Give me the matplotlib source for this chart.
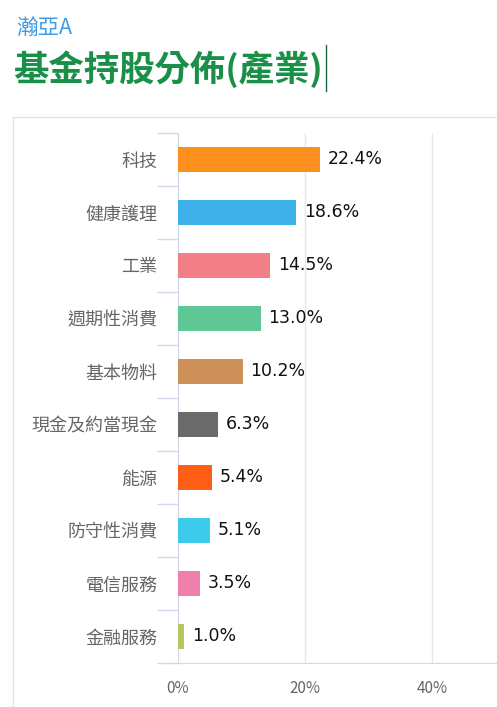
import matplotlib
matplotlib.use('Agg')
import matplotlib.pyplot as plt
from matplotlib.lines import Line2D

plt.rcParams['font.family'] = ['Noto Sans CJK TC', 'DejaVu Sans']

# data
categories = ['科技', '健康護理', '工業', '週期性消費', '基本物料',
              '現金及約當現金', '能源', '防守性消費', '電信服務', '金融服務']
values = [22.4, 18.6, 14.5, 13.0, 10.2, 6.3, 5.4, 5.1, 3.5, 1.0]
colors = ['#FF8F1C', '#3DB1E8', '#F27E88', '#5DC795', '#CD9159',
          '#6B6B6B', '#FF5E16', '#3CCBEA', '#F080AB', '#B3C862']
xticks = [0, 20, 40]

W, H = 497, 707
fig = plt.figure(figsize=(W / 100, H / 100), dpi=100)

# panel border
fig.add_artist(Line2D([13 / W, 13 / W], [0, 1 - 117 / H], color='#E3E3E3', lw=1))
fig.add_artist(Line2D([13 / W, 1], [1 - 117 / H, 1 - 117 / H], color='#E3E3E3', lw=1))

# headings
fig.text(16 / W, 1 - 28 / H, '瀚亞A', color='#3A9BE8', fontsize=15.5, va='center', ha='left')
fig.text(13 / W, 1 - 69 / H, '基金持股分佈(產業)', color='#1A8F48', fontsize=25.5,
         fontweight='bold', va='center', ha='left')
fig.add_artist(Line2D([326 / W, 326 / W], [1 - 45 / H, 1 - 91 / H], color='#1A6A40', lw=1))

ax = fig.add_axes([178 / W, 1 - 663 / H, 1 - 178 / W, (663 - 133) / H])
n = len(categories)
ypos = list(range(n))
ax.barh(ypos, values, height=0.49, color=colors, zorder=3)
ax.set_ylim(n - 0.5, -0.5)
ax.set_xlim(0, (W - 178) / 127 * 20)

for y, v in zip(ypos, values):
    ax.text(v + 1.2, y, f'{v:.1f}%', va='center', ha='left', fontsize=12.5,
            color='#111111', family=['DejaVu Sans'])

ax.set_yticks(ypos)
ax.set_yticklabels(categories, fontsize=13, color='#666666', fontweight='light')
ax.set_yticks([i - 0.5 for i in range(n + 1)], minor=True)
ax.tick_params(axis='y', which='major', length=0, pad=15)
ax.tick_params(axis='y', which='minor', length=15, color='#D4D6EA', width=1)

ax.set_xticks(xticks)
ax.set_xticklabels([f'{t}%' for t in xticks], fontsize=11, color='#666666')
ax.tick_params(axis='x', length=0, pad=12)
ax.grid(axis='x', color='#E6E6F0', lw=1, zorder=0)

for s in ['top', 'right']:
    ax.spines[s].set_visible(False)
ax.spines['left'].set_color('#D4D6EA')
ax.spines['bottom'].set_color('#D4D6EA')
ax.spines['bottom'].set_bounds(-1.9, ax.get_xlim()[1])

fig.savefig('out.png', dpi=100)
